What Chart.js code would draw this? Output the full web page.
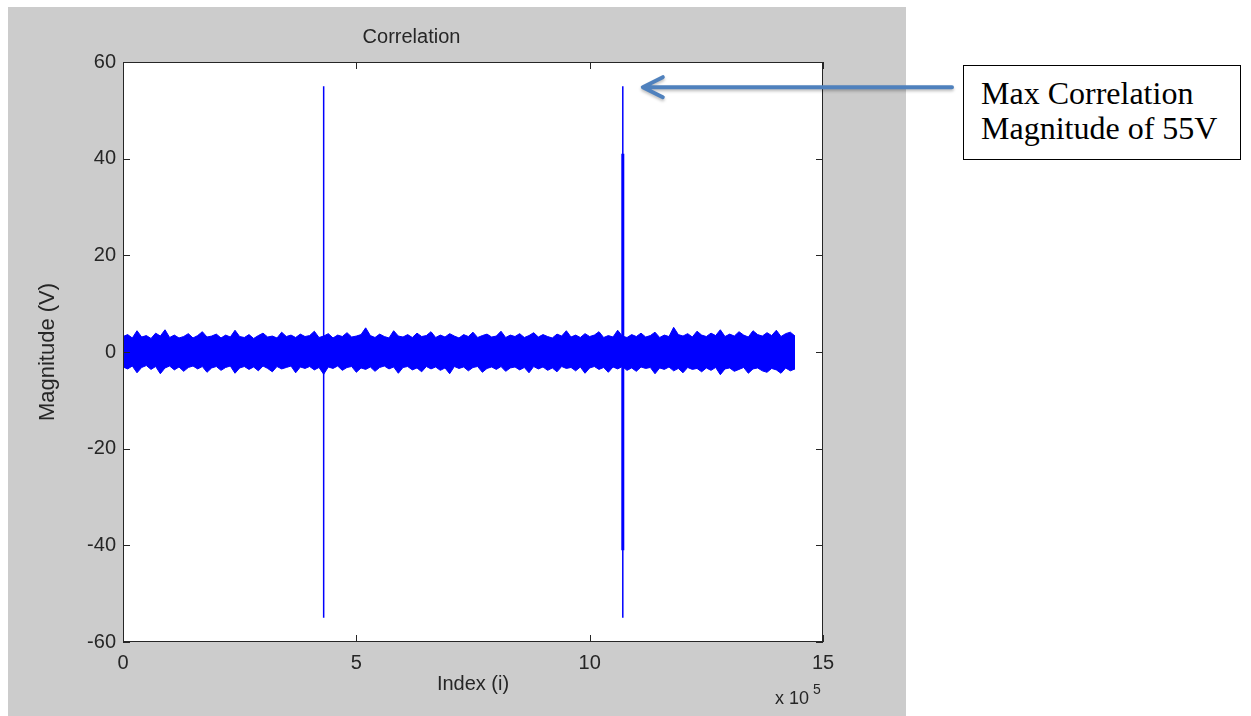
<!DOCTYPE html>
<html>
<head>
<meta charset="utf-8">
<title>Correlation</title>
<script src="https://cdn.jsdelivr.net/npm/chart.js@4.4.0/dist/chart.umd.min.js"></script>
<style>
  html, body { margin: 0; padding: 0; background: #ffffff; }
  #wrap { position: relative; width: 1251px; height: 716px; }
  #note {
    position: absolute;
    left: 963px; top: 65px;
    width: 278px; height: 95px;
    border: 1.5px solid #000;
    padding: 10px 0 0 17px;
    box-sizing: border-box;
    font-family: "Liberation Serif", "Times New Roman", serif;
    font-size: 32px;
    line-height: 35px;
    color: #000;
    background: #fff;
  }
</style>
</head>
<body>
<div id="wrap">
  <canvas id="corrChart" width="1251" height="716"></canvas>
  <div id="note">Max Correlation<br>Magnitude of 55V</div>
</div>
<script>
// ---------- Correlation output

// noise band envelope, one sample every 10^4 indices from 0 to 14.4 x 10^5
const sampleStep = 10000;

const noiseHigh = [
  3.2, 3.6, 2.9, 4.4, 3.1, 3.4, 2.8, 3.9, 3.3, 4.6, 3.0, 3.5, 2.9, 3.2, 3.8, 2.9, 3.4, 4.2, 3.1, 3.3,
  3.7, 2.9, 3.5, 3.1, 4.5, 3.2, 3.0, 3.6, 2.8, 3.4, 3.9, 3.1, 3.3, 2.9, 4.1, 3.2, 3.5, 3.0, 3.7, 3.2,
  3.4, 4.3, 3.0, 3.3, 3.8, 2.9, 3.5, 3.2, 4.0, 3.1, 3.3, 3.6, 5.0, 3.4, 3.0, 3.7, 3.2, 2.9, 4.4, 3.3,
  3.1, 3.6, 3.0, 3.9, 3.2, 3.4, 4.2, 3.0, 3.5, 3.1, 3.8, 3.3, 2.9, 3.6, 3.2, 4.1, 3.0, 3.4, 3.7, 3.1,
  3.3, 4.3, 3.0, 3.5, 3.2, 3.8, 3.0, 3.4, 4.0, 3.1, 3.6, 3.2, 2.9, 3.7, 3.3, 4.4, 3.1, 3.5, 3.0, 3.8,
  3.2, 3.5, 4.2, 3.0, 3.4, 3.1, 4.5, 3.3, 3.0, 3.6, 3.2, 3.9, 3.1, 3.4, 4.1, 3.0, 3.5, 3.2, 5.1, 3.6,
  3.3, 3.8, 3.1, 4.3, 3.5, 3.2, 3.9, 3.4, 4.6, 3.2, 3.7, 3.3, 4.2, 3.5, 3.1, 4.4, 3.6, 3.3, 4.0, 3.4,
  4.5, 3.2, 3.8, 4.1, 3.3
];

const noiseLow = [
  -3.1, -3.5, -2.9, -4.3, -3.2, -2.8, -3.6, -3.0, -4.5, -3.3, -2.9, -3.7, -3.1, -4.0, -3.2, -2.9, -3.5, -3.0, -4.2, -3.3,
  -3.0, -3.8, -3.2, -2.9, -4.4, -3.3, -3.0, -3.6, -3.1, -3.9, -2.9, -3.4, -4.1, -3.0, -3.5, -3.2, -2.9, -4.3, -3.1, -3.4,
  -3.0, -3.7, -3.2, -4.6, -3.1, -3.4, -2.9, -3.8, -3.2, -3.0, -4.2, -3.3, -3.6, -3.1, -4.0, -3.2, -2.9, -3.5, -3.1, -4.4,
  -3.2, -3.0, -3.7, -3.3, -4.1, -3.0, -3.5, -3.1, -3.8, -3.3, -4.5, -3.0, -3.4, -3.1, -3.9, -3.2, -3.0, -4.2, -3.4, -3.1,
  -3.6, -3.0, -4.0, -3.3, -3.1, -3.7, -3.2, -4.3, -3.0, -3.5, -3.1, -3.8, -3.3, -4.1, -3.0, -3.4, -3.2, -3.9, -3.1, -4.4,
  -3.3, -3.0, -3.6, -3.2, -4.2, -3.1, -3.5, -3.0, -3.8, -3.3, -4.0, -3.1, -3.4, -3.2, -4.5, -3.3, -3.6, -3.1, -3.9, -3.4,
  -4.3, -3.2, -3.6, -3.4, -4.1, -3.3, -3.8, -3.2, -4.7, -3.5, -3.3, -4.0, -3.6, -3.2, -4.4, -3.5, -3.3, -3.9, -4.2, -3.4,
  -3.7, -4.4, -3.3, -3.9, -3.5
];

// correlation peaks
const peakIndex = [430000, 1071000];
const peakTop = [55, 55];
const peakBottom = [-55, -55];
// second peak has a denser inner part
const innerTop = 41;
const innerBottom = -41;

// axis ticks
const xTicks = [0, 500000, 1000000, 1500000];
const yTicks = [-60, -40, -20, 0, 20, 40, 60];

const blue = "#0000ff";
const axisInk = "#262626";
const fontFamily = "'Liberation Sans', Arial, Helvetica, sans-serif";

function peakLine(i, top, bottom) {
    return [{ x: peakIndex[i], y: top }, { x: peakIndex[i], y: bottom }];
}

// grey figure, inside ticks, exponent label and the arrow
const matlabFrame = {
    id: "matlabFrame",
    beforeDraw(chart) {
        const { ctx, chartArea: a } = chart;
        ctx.save();
        ctx.fillStyle = "#cccccc";
        ctx.fillRect(8, 7, 898, 709);
        ctx.fillStyle = "#ffffff";
        ctx.fillRect(a.left, a.top, a.right - a.left, a.bottom - a.top);
        ctx.restore();
    },
    afterDatasetsDraw(chart) {
        const { ctx, chartArea: a, scales } = chart;
        const tick = 7;
        ctx.save();
        ctx.strokeStyle = axisInk;
        ctx.lineWidth = 1;
        ctx.strokeRect(a.left + 0.5, a.top + 0.5, a.right - a.left - 1, a.bottom - a.top - 1);

        ctx.beginPath();
        xTicks.forEach(v => {
            const px = Math.round(scales.x.getPixelForValue(v)) + 0.5;
            ctx.moveTo(px, a.bottom); ctx.lineTo(px, a.bottom - tick);
            ctx.moveTo(px, a.top); ctx.lineTo(px, a.top + tick);
        });
        yTicks.forEach(v => {
            const py = Math.round(scales.y.getPixelForValue(v)) + 0.5;
            ctx.moveTo(a.left, py); ctx.lineTo(a.left + tick, py);
            ctx.moveTo(a.right, py); ctx.lineTo(a.right - tick, py);
        });
        ctx.stroke();

        // x 10^5 exponent under the right end of the axis
        ctx.fillStyle = axisInk;
        ctx.textBaseline = "alphabetic";
        ctx.textAlign = "left";
        ctx.font = "18px " + fontFamily;
        ctx.fillText("x 10", a.right - 48, a.bottom + 62);
        ctx.font = "14px " + fontFamily;
        ctx.fillText("5", a.right - 10, a.bottom + 52);

        // annotation arrow pointing at the max peak
        const tipX = scales.x.getPixelForValue(peakIndex[1]) + 20;
        const tipY = scales.y.getPixelForValue(peakTop[1]) + 1;
        ctx.strokeStyle = "#4f81bd";
        ctx.lineWidth = 4;
        ctx.lineCap = "round";
        ctx.lineJoin = "round";
        ctx.shadowColor = "rgba(0,0,0,0.25)";
        ctx.shadowOffsetY = 2;
        ctx.shadowBlur = 3;
        ctx.beginPath();
        ctx.moveTo(952, tipY);
        ctx.lineTo(tipX + 3, tipY);
        ctx.moveTo(tipX + 20, tipY - 10);
        ctx.lineTo(tipX, tipY);
        ctx.lineTo(tipX + 20, tipY + 10);
        ctx.stroke();
        ctx.restore();
    }
};

const corrChart = new Chart(document.getElementById("corrChart"), {

    type: "line",

    data: {
        datasets: [
            {
                label: "upper",
                data: noiseHigh.map((v, i) => ({ x: i * sampleStep, y: v })),
                borderColor: blue,
                backgroundColor: blue,
                borderWidth: 1,
                pointRadius: 0,
                fill: "+1"
            },
            {
                label: "lower",
                data: noiseLow.map((v, i) => ({ x: i * sampleStep, y: v })),
                borderColor: blue,
                borderWidth: 1,
                pointRadius: 0,
                fill: false
            },
            {
                label: "peak 1",
                data: peakLine(0, peakTop[0], peakBottom[0]),
                borderColor: blue,
                borderWidth: 1.5,
                pointRadius: 0
            },
            {
                label: "peak 2",
                data: peakLine(1, peakTop[1], peakBottom[1]),
                borderColor: blue,
                borderWidth: 1.5,
                pointRadius: 0
            },
            {
                label: "peak 2 inner",
                data: peakLine(1, innerTop, innerBottom),
                borderColor: blue,
                borderWidth: 3,
                pointRadius: 0
            }
        ]
    },

    options: {
        responsive: false,
        animation: false,
        layout: {
            padding: { left: 0, top: 0, right: 428, bottom: 0 }
        },
        plugins: {
            legend: { display: false },
            tooltip: { enabled: false },
            title: {
                display: true,
                text: "Correlation",
                color: axisInk,
                font: { family: fontFamily, size: 20, weight: "normal" },
                padding: { top: 25, bottom: 13 }
            }
        },
        scales: {
            x: {
                type: "linear",
                min: 0,
                max: 1500000,
                afterFit: s => { s.height = 74; },
                afterBuildTicks: s => { s.ticks = xTicks.map(v => ({ value: v })); },
                grid: { display: false, drawTicks: false },
                border: { display: false },
                ticks: {
                    color: axisInk,
                    padding: 9,
                    maxRotation: 0,
                    font: { family: fontFamily, size: 20 },
                    callback: v => v / 100000
                },
                title: {
                    display: true,
                    text: "Index (i)",
                    color: axisInk,
                    font: { family: fontFamily, size: 20 },
                    padding: { top: 0, bottom: 20 }
                }
            },
            y: {
                min: -60,
                max: 60,
                afterFit: s => { s.width = 123; },
                afterBuildTicks: s => { s.ticks = yTicks.map(v => ({ value: v })); },
                grid: { display: false, drawTicks: false },
                border: { display: false },
                ticks: {
                    color: axisInk,
                    padding: 7,
                    font: { family: fontFamily, size: 20 }
                },
                title: {
                    display: true,
                    text: "Magnitude (V)",
                    color: axisInk,
                    font: { family: fontFamily, size: 22 },
                    padding: { top: 35, bottom: 0 }
                }
            }
        }
    },

    plugins: [matlabFrame]
});
</script>
</body>
</html>
